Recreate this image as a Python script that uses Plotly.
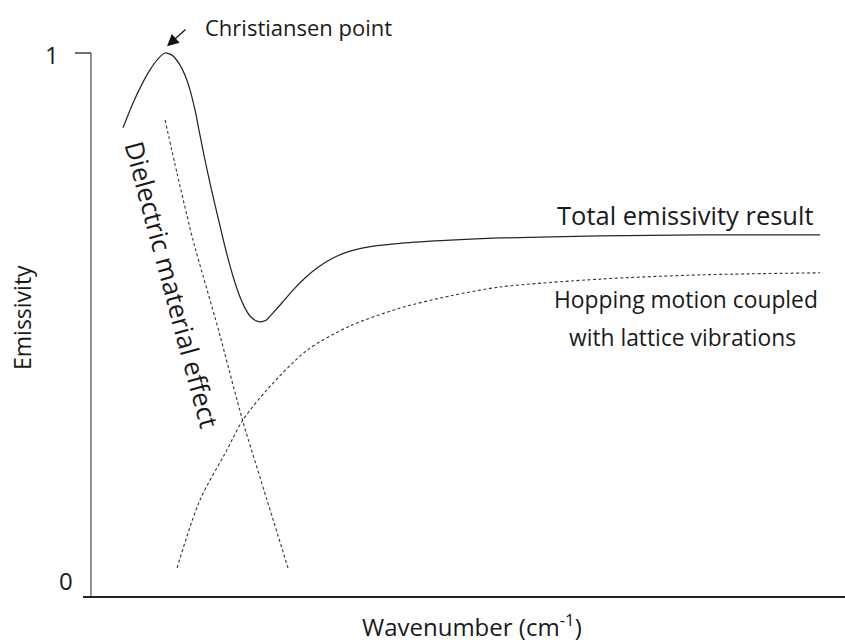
import plotly.graph_objects as go

# Schematic emissivity spectrum (arbitrary wavenumber units, emissivity 0..1)
total_x = [32, 42, 51, 59, 67, 74, 81, 89, 95, 99, 104, 109, 114, 119, 124, 129, 134, 139, 144, 149,
           154, 159, 164, 169, 175, 182, 192, 202, 214, 226, 242, 259, 284, 309, 359, 409, 509, 609, 729]
total_y = [0.858, 0.905, 0.941, 0.968, 0.989, 1.000, 0.996, 0.977, 0.953, 0.930, 0.892, 0.844, 0.797,
           0.753, 0.712, 0.672, 0.632, 0.596, 0.564, 0.537, 0.516, 0.501, 0.493, 0.490, 0.493, 0.507,
           0.528, 0.550, 0.573, 0.592, 0.611, 0.624, 0.634, 0.639, 0.645, 0.649, 0.653, 0.655, 0.655]

dielectric_x = [74, 86, 102, 127, 152, 176, 197]
dielectric_y = [0.873, 0.772, 0.645, 0.478, 0.300, 0.152, 0.023]

hopping_x = [86, 109, 136, 152, 176, 216, 259, 309, 359, 409, 509, 609, 729]
hopping_y = [0.023, 0.152, 0.247, 0.304, 0.361, 0.436, 0.482, 0.516, 0.539, 0.556, 0.571, 0.579, 0.583]

peak_x = 76
peak_y = 1.013

FONT = "Open Sans"
INK = "#1a1a1a"

fig = go.Figure()
fig.add_trace(go.Scatter(x=total_x, y=total_y, mode="lines",
                         line=dict(color="#262626", width=1.25, shape="spline", smoothing=0.6),
                         hoverinfo="skip"))
fig.add_trace(go.Scatter(x=dielectric_x, y=dielectric_y, mode="lines",
                         line=dict(color="#333333", width=1.1, shape="spline", smoothing=0.6, dash="3px,2.5px"),
                         hoverinfo="skip"))
fig.add_trace(go.Scatter(x=hopping_x, y=hopping_y, mode="lines",
                         line=dict(color="#333333", width=1.1, shape="spline", smoothing=0.8, dash="3px,2.5px"),
                         hoverinfo="skip"))

y_base = -0.0323

# axis frame
shapes = [
    dict(type="line", xref="x", yref="y", x0=0, x1=0, y0=y_base, y1=1,
         line=dict(color="#7a7a7a", width=1.6)),
    dict(type="line", xref="x", yref="y", x0=-16, x1=0, y0=1, y1=1,
         line=dict(color="#333333", width=1.4)),
    dict(type="line", xref="x", yref="y", x0=-8, x1=754, y0=y_base, y1=y_base,
         line=dict(color="#222222", width=2)),
]

W, H = 845, 644
ML, MR, MT, MB = 75, 0, 42, 39


def px(x, y):
    """Pixel position on the page -> paper fractions."""
    return (x - ML) / (W - ML - MR), (H - MB - y) / (H - MT - MB)


def note(x, y, text, size, xanchor="center", **kw):
    xp, yp = px(x, y)
    return dict(x=xp, y=yp, xref="paper", yref="paper", text=text, showarrow=False,
                xanchor=xanchor, yanchor="middle",
                font=dict(family=FONT, size=size, color=INK), **kw)


annotations = [
    note(52, 54, "1", 24),
    note(66, 580, "0", 24),
    note(22, 318, "Emissivity", 23, textangle=-90),
    note(472, 625, "Wavenumber (cm<sup>-1</sup>)", 24),
    note(203, 27, "Christiansen point", 22, xanchor="left"),
    note(685, 215, "Total emissivity result", 25.5),
    note(686, 300, "Hopping motion coupled", 22.8),
    note(682, 337, "with lattice vibrations", 22.8),
    note(172, 284, "Dielectric material effect", 26, textangle=75),
    dict(x=peak_x, y=peak_y, xref="x", yref="y", text="", showarrow=True,
         ax=20, ay=-18, arrowhead=2, arrowsize=1.8, arrowwidth=1.3, arrowcolor="#111111"),
]

fig.update_layout(
    width=W, height=H,
    margin=dict(l=ML, r=MR, t=MT, b=MB),
    plot_bgcolor="white", paper_bgcolor="white",
    showlegend=False,
    shapes=shapes,
    annotations=annotations,
    xaxis=dict(range=[-16, 754], visible=False, fixedrange=True),
    yaxis=dict(range=[-0.0474, 1.0209], visible=False, fixedrange=True),
)

fig.write_html("out.html")
